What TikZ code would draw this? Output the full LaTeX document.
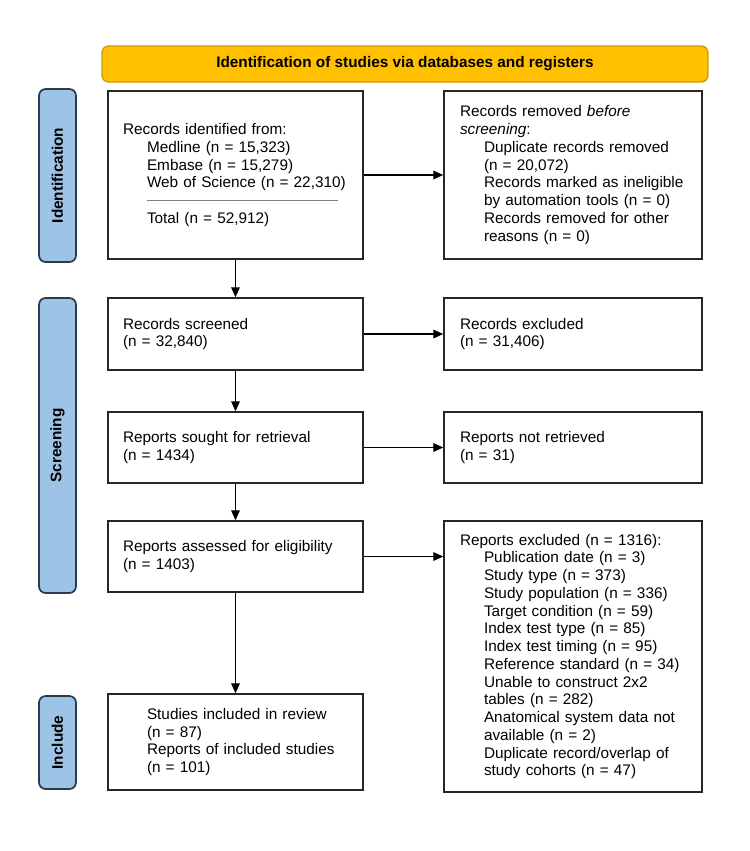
\documentclass[tikz,border=0pt]{standalone}
\usepackage{fontspec}
\setmainfont{Liberation Sans}
\usetikzlibrary{arrows.meta}
\definecolor{bannerfill}{HTML}{FFC000}
\definecolor{bannerline}{HTML}{C99A0A}
\definecolor{phasefill}{HTML}{9DC3E6}
\definecolor{phaseline}{HTML}{2B3A4E}
\newcommand{\prisind}{\hspace*{18pt}}

\begin{document}
\begin{tikzpicture}[x=.75pt,y=-.75pt,
  font=\fontsize{11.5pt}{13.3pt}\selectfont,
  leftbox/.style={draw=black!85,line width=1.1pt,minimum width=191.25pt,
    text width=168.75pt,inner xsep=11.25pt,inner ysep=3pt,align=left},
  rightbox/.style={draw=black!85,line width=1.1pt,minimum width=193.5pt,
    text width=169.5pt,inner xsep=12pt,inner ysep=3pt,align=left},
  phase/.style={draw=phaseline,fill=phasefill,line width=1.3pt,rounded corners=5pt,
    rotate=90,minimum height=27.75pt,font=\fontsize{11.5pt}{13.3pt}\selectfont\bfseries},
  flow/.style={line width=1pt,-{Triangle[length=7.5pt,width=6.5pt]}}]
  \useasboundingbox (0,0) rectangle (750,851);
  \node[draw=bannerline,fill=bannerfill,line width=1pt,rounded corners=5pt,
    minimum width=454.5pt,minimum height=27pt,font=\fontsize{11.5pt}{13.3pt}\selectfont\bfseries]
    (banner) at (405,64) {Identification of studies via databases and registers};
  \node[phase,minimum width=129.75pt] (idbar) at (57.5,175.5) {Identification};
  \node[phase,minimum width=221.25pt] (scbar) at (57.5,445.5) {Screening};
  \node[phase,minimum width=69.75pt] (inbar) at (57.5,742.5) {Include};
  \node[leftbox,minimum height=126pt] (ident) at (235.5,175) {Records identified from:\\
    \prisind Medline (n = 15,323)\\
    \prisind Embase (n = 15,279)\\
    \prisind Web of Science (n = 22,310)\\
    \prisind{\color{gray}\rule[3.5pt]{143pt}{0.6pt}}\\
    \prisind Total (n = 52,912)};
  \node[rightbox,minimum height=126pt] (removed) at (573,175) {Records removed \emph{before}\\
    \emph{screening}:\\
    \prisind Duplicate records removed\\
    \prisind (n = 20,072)\\
    \prisind Records marked as ineligible\\
    \prisind by automation tools (n = 0)\\
    \prisind Records removed for other\\
    \prisind reasons (n = 0)};
  \node[leftbox,minimum height=54pt] (screened) at (235.5,334) {Records screened\\(n = 32,840)};
  \node[rightbox,minimum height=54pt] (exclrec) at (573,334) {Records excluded\\(n = 31,406)};
  \node[leftbox,minimum height=53.25pt] (sought) at (235.5,447.5) {Reports sought for retrieval\\(n = 1434)};
  \node[rightbox,minimum height=53.25pt] (notret) at (573,447.5) {Reports not retrieved\\(n = 31)};
  \node[leftbox,minimum height=53.25pt] (assessed) at (235.5,556.5) {Reports assessed for eligibility\\(n = 1403)};
  \node[rightbox,minimum height=203.25pt] (rexcl) at (573,656.5) {Reports excluded (n = 1316):\\
    \prisind Publication date (n = 3)\\
    \prisind Study type (n = 373)\\
    \prisind Study population (n = 336)\\
    \prisind Target condition (n = 59)\\
    \prisind Index test type (n = 85)\\
    \prisind Index test timing (n = 95)\\
    \prisind Reference standard (n = 34)\\
    \prisind Unable to construct 2x2\\
    \prisind tables (n = 282)\\
    \prisind Anatomical system data not\\
    \prisind available (n = 2)\\
    \prisind Duplicate record/overlap of\\
    \prisind study cohorts (n = 47)};
  \node[leftbox,minimum height=72pt] (included) at (235.5,742) {\prisind Studies included in review\\
    \prisind (n = 87)\\
    \prisind Reports of included studies\\
    \prisind (n = 101)};
  \draw[flow] (ident) -- (removed);
  \draw[flow] (ident) -- (screened);
  \draw[flow] (screened) -- (exclrec);
  \draw[flow] (screened) -- (sought);
  \draw[flow] (sought) -- (notret);
  \draw[flow] (sought) -- (assessed);
  \draw[flow] (assessed.east) -- (assessed.east -| rexcl.west);
  \draw[flow] (assessed) -- (included);
\end{tikzpicture}
\end{document}
